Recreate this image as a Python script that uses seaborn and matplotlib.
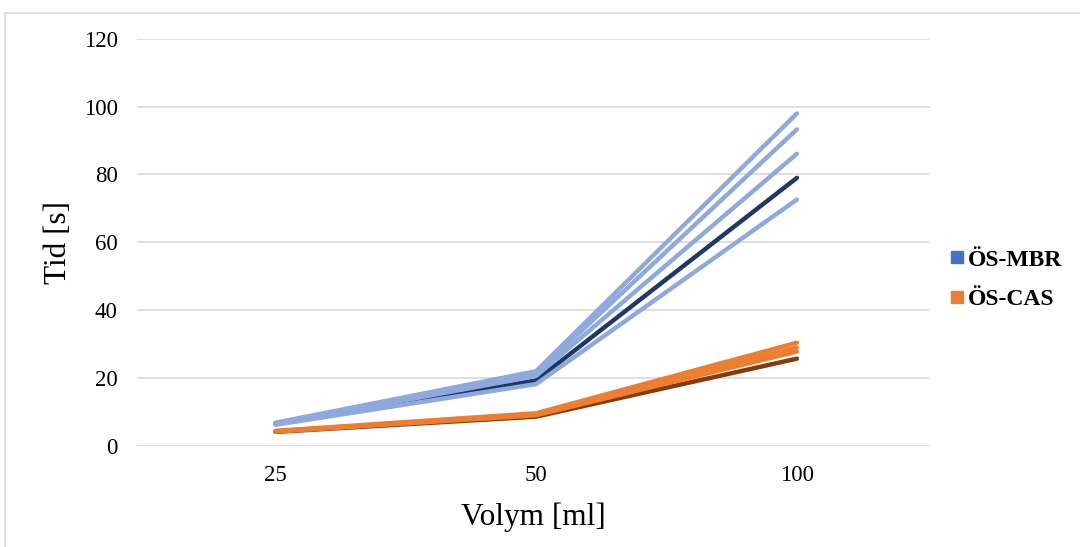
import numpy as np
import pandas as pd
import matplotlib.pyplot as plt
import matplotlib.patches as mpatches
from matplotlib.lines import Line2D
import seaborn as sns

sns.set_theme(style="white")
plt.rcParams['font.family'] = ['Liberation Serif', 'DejaVu Serif']
plt.rcParams['text.color'] = 'black'
plt.rcParams['axes.labelcolor'] = 'black'

volumes = ["25", "50", "100"]

# ÖS-MBR runs (light) + mean (dark)
mbr_runs = [
    [6.8, 22.0, 98.0],
    [6.6, 21.4, 93.3],
    [6.4, 20.6, 86.1],
    [6.2, 18.2, 72.6],
]
mbr_mean = [6.5, 19.3, 79.0]

# ÖS-CAS runs (light) + mean (dark)
cas_runs = [
    [4.4, 9.6, 30.4],
    [4.3, 9.3, 29.0],
    [4.2, 9.0, 27.8],
]
cas_mean = [4.1, 8.6, 25.7]

light_blue = "#8EA9DB"
dark_blue = "#203864"
orange = "#ED7D31"
dark_orange = "#843C0C"

fig = plt.figure(figsize=(10.8, 5.47), dpi=100)
ax = fig.add_axes([0.127, 0.185, 0.734, 0.744])

# chart border
fig.patches.append(mpatches.Rectangle((5 / 1080, -0.1), 1.2, 1 - 13 / 547 + 0.1,
                                      transform=fig.transFigure, fill=False,
                                      edgecolor="#D9D9D9", linewidth=1.2))

def draw(vals, color):
    df = pd.DataFrame({"vol": volumes, "t": vals})
    sns.lineplot(data=df, x="vol", y="t", ax=ax, color=color, linewidth=3.2,
                 errorbar=None, sort=False, solid_capstyle="round")

draw(cas_mean, dark_orange)
for r in cas_runs:
    draw(r, orange)
draw(mbr_mean, dark_blue)
for r in mbr_runs:
    draw(r, light_blue)

ax.set_xlim(-0.53, 2.51)
ax.set_ylim(0, 120)
ax.set_yticks(np.arange(0, 121, 20))
ax.yaxis.grid(True, color="#D9D9D9", linewidth=1.2)
ax.set_axisbelow(True)
for s in ax.spines.values():
    s.set_visible(False)
ax.tick_params(axis="both", length=0, labelsize=16.5, colors="black", pad=14)
ax.set_xlabel("Volym [ml]", fontsize=22.5, labelpad=12)
ax.set_ylabel("Tid [s]", fontsize=22.5, labelpad=8)

handles = [Line2D([], [], marker="s", linestyle="none", markersize=9, color="#4472C4"),
           Line2D([], [], marker="s", linestyle="none", markersize=9, color="#ED7D31")]
fig.legend(handles, ["ÖS-MBR", "ÖS-CAS"], loc="center left",
           bbox_to_anchor=(0.866, 0.489), frameon=False,
           prop={"size": 17, "weight": "bold"}, borderpad=0,
           handletextpad=0.1, labelspacing=0.75, handlelength=0.8)

fig.savefig("out.png", dpi=100)
